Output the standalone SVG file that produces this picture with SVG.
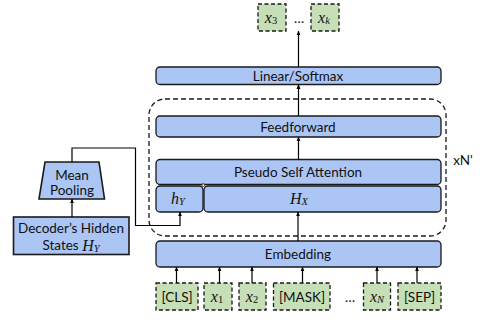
<svg xmlns="http://www.w3.org/2000/svg" width="482" height="320" viewBox="0 0 482 320">
<defs>
<marker id="ah" viewBox="0 0 6 6" refX="5.5" refY="3" markerWidth="4" markerHeight="4" orient="auto-start-reverse">
<path d="M0,0.5 L6,3 L0,5.5 z" fill="#000"/>
</marker>
<style>
.blk{fill:#abc6f4;stroke:#1a1a1a;stroke-width:1.3}
.tok{fill:#c6dfb6;stroke:#1a1a1a;stroke-width:1.3;stroke-dasharray:4,2.5}
.t{font-family:"Lato","Liberation Sans",sans-serif;font-size:13.5px;fill:#111;text-anchor:middle;dominant-baseline:central}
.m{font-family:"Liberation Serif","DejaVu Serif",serif;font-style:italic;font-size:16px;fill:#111;text-anchor:middle;dominant-baseline:central}
.s{font-size:10.5px}
.u{font-style:normal}
.c{fill:none;stroke:#000;stroke-width:1.2}
</style>
</defs>
<rect x="0" y="0" width="482" height="320" fill="#fff"/>

<g id="block-frame">
<rect x="149" y="99" width="297" height="137" rx="16" fill="none" stroke="#1a1a1a" stroke-width="1.3" stroke-dasharray="5,3"/>
<text class="t" x="463" y="160">xN'</text>
</g>

<g id="out-x3"><rect class="tok" x="258" y="4" width="28" height="27"/><text class="m" x="271" y="17">x<tspan class="s u" dy="3">3</tspan></text></g>
<g id="out-dots"><text class="t" x="299" y="18">…</text></g>
<g id="out-xk"><rect class="tok" x="311" y="4" width="28" height="27"/><text class="m" x="324" y="17">x<tspan class="s" dy="3">k</tspan></text></g>

<g id="linear"><rect class="blk" x="156" y="67" width="285" height="17.5" rx="4"/><text class="t" x="298" y="75.8">Linear/Softmax</text></g>
<g id="feedforward"><rect class="blk" x="156" y="116" width="285" height="21" rx="4"/><text class="t" x="298" y="126.5">Feedforward</text></g>
<g id="psa"><rect class="blk" x="156" y="159.5" width="285" height="25" rx="4"/><text class="t" x="298" y="172">Pseudo Self Attention</text></g>
<g id="hy"><rect class="blk" x="156" y="186" width="47" height="26" rx="4"/><text class="m" x="178" y="198">h<tspan class="s" dy="3">Y</tspan></text></g>
<g id="hx"><rect class="blk" x="204" y="186" width="237" height="26" rx="4"/><text class="m" x="299" y="198">H<tspan class="s" dy="3">X</tspan></text></g>
<circle cx="203.3" cy="185.2" r="1.4" fill="#fff" stroke="#1a1a1a" stroke-width="0.8"/>
<g id="embedding"><rect class="blk" x="156" y="241" width="285" height="26" rx="4"/><text class="t" x="298" y="254">Embedding</text></g>

<g id="in-cls"><rect class="tok" x="156" y="283" width="42" height="27"/><text class="t" x="177" y="296.5">[CLS]</text></g>
<g id="in-x1"><rect class="tok" x="204" y="283" width="28" height="27"/><text class="m" x="217" y="296">x<tspan class="s u" dy="3">1</tspan></text></g>
<g id="in-x2"><rect class="tok" x="239" y="283" width="27" height="27"/><text class="m" x="252" y="296">x<tspan class="s u" dy="3">2</tspan></text></g>
<g id="in-mask"><rect class="tok" x="273.5" y="283" width="56.5" height="27"/><text class="t" x="302" y="296.5">[MASK]</text></g>
<g id="in-dots"><text class="t" x="350" y="297">…</text></g>
<g id="in-xn"><rect class="tok" x="363.5" y="283" width="27" height="27"/><text class="m" x="377" y="296">x<tspan class="s" dy="3">N</tspan></text></g>
<g id="in-sep"><rect class="tok" x="398" y="283" width="43" height="27"/><text class="t" x="419.5" y="296.5">[SEP]</text></g>

<g id="decoder"><rect x="13.5" y="217" width="115.5" height="37.5" fill="#abc6f4" stroke="#1a1a1a" stroke-width="1.6"/>
<text class="t" x="71" y="228">Decoder’s Hidden</text>
<text class="t" x="71" y="245">States <tspan font-family="Liberation Serif,serif" font-style="italic" font-size="16">H</tspan><tspan font-family="Liberation Serif,serif" font-style="italic" font-size="10.5" dy="3">Y</tspan></text></g>
<g id="mean-pooling"><polygon points="45,162 99,162 104.5,199 39,199" fill="#abc6f4" stroke="#1a1a1a" stroke-width="1.6"/>
<text class="t" x="72" y="175">Mean</text><text class="t" x="72" y="190">Pooling</text></g>

<g id="connectors">
<line class="c" x1="298.5" y1="67" x2="298.5" y2="31" marker-end="url(#ah)"/>
<line class="c" x1="298.5" y1="116" x2="298.5" y2="84.5" marker-end="url(#ah)"/>
<line class="c" x1="298.5" y1="159.5" x2="298.5" y2="137" marker-end="url(#ah)"/>
<line class="c" x1="298" y1="241" x2="298" y2="212" marker-end="url(#ah)"/>
<polyline class="c" points="72,162 72,148 135.5,148 135.5,225.5 180,225.5 180,212" marker-end="url(#ah)"/>
<line class="c" x1="72" y1="217" x2="72" y2="199" marker-end="url(#ah)"/>
<line class="c" x1="176.5" y1="283" x2="176.5" y2="267" marker-end="url(#ah)"/>
<line class="c" x1="219.5" y1="283" x2="219.5" y2="267" marker-end="url(#ah)"/>
<line class="c" x1="252" y1="283" x2="252" y2="267" marker-end="url(#ah)"/>
<line class="c" x1="302.5" y1="283" x2="302.5" y2="267" marker-end="url(#ah)"/>
<line class="c" x1="377" y1="283" x2="377" y2="267" marker-end="url(#ah)"/>
<line class="c" x1="417" y1="283" x2="417" y2="267" marker-end="url(#ah)"/>
</g>
</svg>
